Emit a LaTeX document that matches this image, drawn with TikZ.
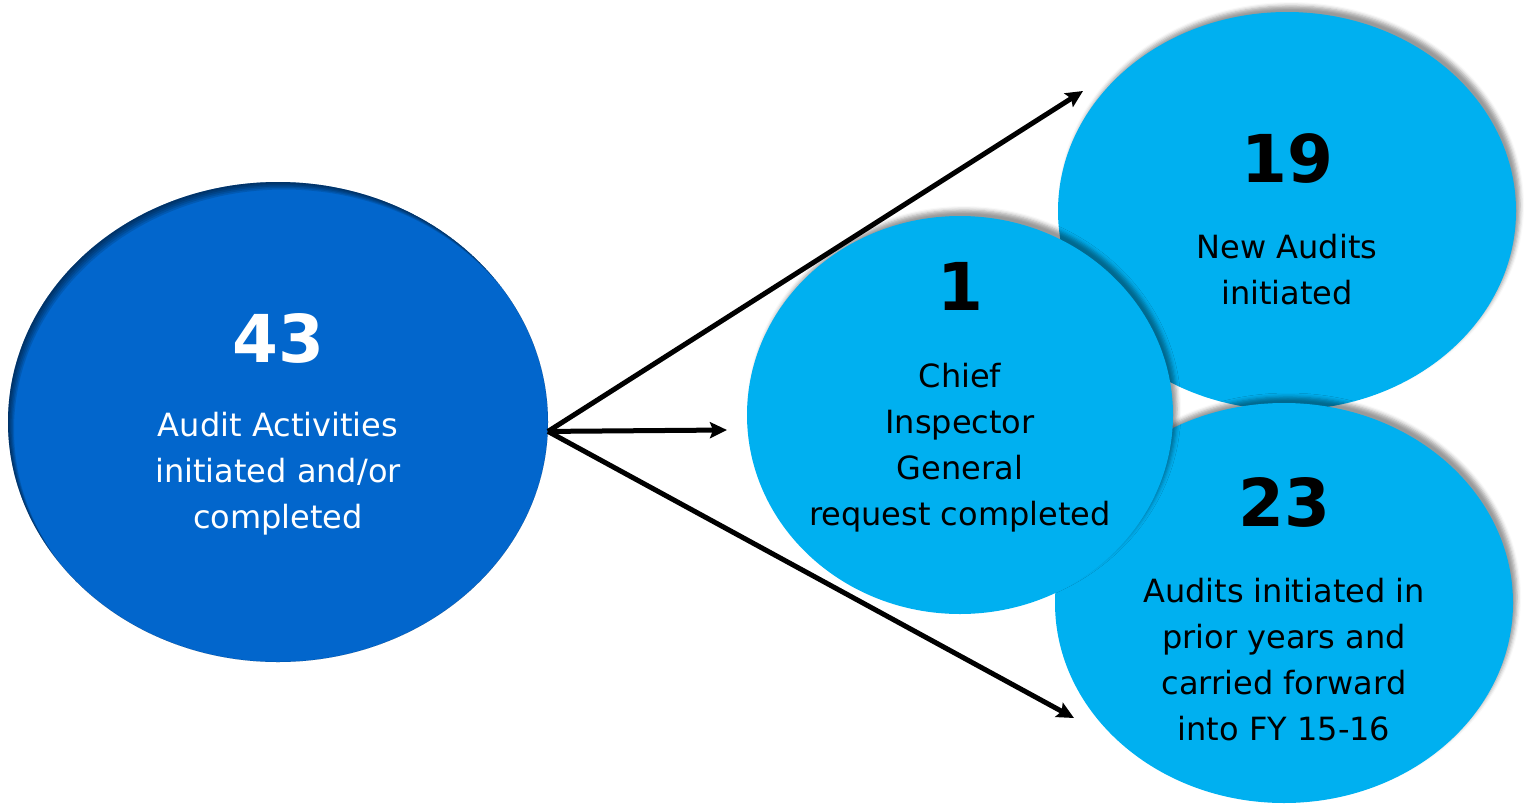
\documentclass[tikz,border=0pt]{standalone}
\usepackage{fontspec}
\setmainfont{DejaVu Sans}
\usetikzlibrary{shapes.geometric, arrows.meta, shadows.blur}
\definecolor{darkblue}{RGB}{2,102,204}
\definecolor{lightblue}{RGB}{0,176,240}
\begin{document}
\begin{tikzpicture}[x=1pt,y=-1pt,
  bubble/.style={ellipse, inner sep=0pt, fill=lightblue,
    blur shadow={shadow xshift=4pt, shadow yshift=6pt, shadow blur radius=4pt, shadow opacity=40}},
  numtext/.style={font=\fontsize{66}{70}\selectfont\bfseries, anchor=base, inner sep=0pt},
  bodytext/.style={font=\fontsize{32}{46}\selectfont, align=center, anchor=base, inner sep=0pt},
  link/.style={line width=5pt, -{Stealth[length=17pt,width=16pt,inset=3pt]}}]
\useasboundingbox (0,0) rectangle (1530,803);

% big ellipse
\node[ellipse, inner sep=0pt, minimum width=540pt, minimum height=480pt, fill=darkblue] (big) at (278,422) {};
\begin{scope}
  \clip (278,422) ellipse [x radius=270, y radius=240];
  \foreach \k in {1.5,3,4.5,6,7.5}
    \fill[black, opacity=0.12, even odd rule] (278,422) ellipse [x radius=270, y radius=240]
      (278+0.8*\k,422+\k) ellipse [x radius=270, y radius=240];
\end{scope}
\node[numtext, text=white] (n43) at (278,362) {43};
\node[bodytext, text=white] (t43) at (278,528) {Audit Activities\\initiated and/or\\completed};

% connectors
\coordinate (e19) at (1083,91);
\coordinate (e1) at (727,430);
\coordinate (e23) at (1074,718);
\draw[link] (big.-2) -- (e19);
\draw[link] (big.-2) -- (e1);
\draw[link] (big.-2) -- (e23);

% right ellipses
\node[bubble, minimum width=458pt, minimum height=398pt] (b19) at (1287,211) {};
\node[numtext] (n19) at (1287,182) {19};
\node[bodytext] (t19) at (1287,304) {New Audits\\initiated};

\node[bubble, minimum width=458pt, minimum height=400pt] (b23) at (1284,603) {};
\node[numtext] (n23) at (1284,526) {23};
\node[bodytext] (t23) at (1284,740) {Audits initiated in\\prior years and\\carried forward\\into FY 15-16};

\node[bubble, minimum width=426pt, minimum height=398pt] (b1) at (960,415) {};
\node[numtext] (n1) at (960,310) {1};
\node[bodytext] (t1) at (960,525) {Chief\\Inspector\\General\\request completed};
\end{tikzpicture}
\end{document}
